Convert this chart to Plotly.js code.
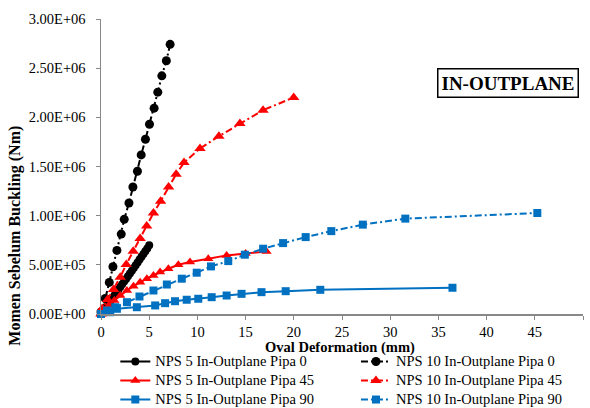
<!DOCTYPE html>
<html>
<head>
<meta charset="utf-8">
<script src="https://cdn.plot.ly/plotly-3.0.1.min.js"></script>
<style>html,body{margin:0;padding:0;background:#fff;}#chart{width:590px;height:408px;}</style>
</head>
<body>
<div id="chart"></div>
<script>
// ---- data ----
const seriesNames = [
  "NPS 5 In-Outplane Pipa 0",
  "NPS 10 In-Outplane Pipa 0",
  "NPS 5 In-Outplane Pipa 45",
  "NPS 10 In-Outplane Pipa 45",
  "NPS 5 In-Outplane Pipa 90",
  "NPS 10 In-Outplane Pipa 90"
];

const nps5Pipa0X = [0, 0.2, 0.4, 0.6, 0.8, 1.0, 1.2, 1.4, 1.6, 1.8, 2.0, 2.2, 2.4, 2.6, 2.8, 3.0, 3.2, 3.4, 3.6, 3.8, 4.0, 4.2, 4.4, 4.6, 4.8, 5.0];
const nps5Pipa0Y = [0, 24000, 51000, 79000, 107000, 135000, 163000, 191000, 219000, 247000, 275000, 302000, 330000, 357000, 385000, 413000, 441000, 469000, 497000, 525000, 553000, 581000, 609000, 637000, 666000, 700000];

const nps10Pipa0X = [0, 0.44, 0.86, 1.24, 1.65, 2.10, 2.41, 2.90, 3.31, 3.78, 4.17, 4.61, 5.03, 5.51, 5.89, 6.31, 6.78, 7.17];
const nps10Pipa0Y = [20000, 158000, 321000, 481000, 647000, 813000, 963000, 1129000, 1292000, 1452000, 1618000, 1777000, 1930000, 2093000, 2256000, 2422000, 2575000, 2742000];

const nps5Pipa45X = [0, 0.34, 0.79, 1.38, 2.00, 2.69, 3.37, 4.06, 4.76, 5.44, 6.13, 6.99, 8.02, 9.23, 11.13, 13.03, 15.0, 17.17];
const nps5Pipa45Y = [0, 36000, 87000, 138000, 188000, 239000, 283000, 324000, 359000, 392000, 426000, 460000, 501000, 528000, 562000, 596000, 615000, 635000];

const nps10Pipa45X = [0, 0.13, 0.68, 1.30, 2.00, 2.62, 3.34, 4.06, 4.74, 5.44, 6.18, 7.01, 7.79, 8.61, 10.27, 12.23, 14.41, 16.81, 19.99];
const nps10Pipa45Y = [0, 56000, 148000, 250000, 375000, 504000, 637000, 769000, 896000, 1027000, 1146000, 1292000, 1421000, 1540000, 1683000, 1808000, 1937000, 2073000, 2202000];

const nps5Pipa90X = [0, 0.96, 1.65, 3.72, 5.62, 6.65, 7.68, 8.89, 10.09, 11.48, 13.03, 14.58, 16.65, 19.16, 22.75, 36.46];
const nps5Pipa90Y = [0, 18000, 53000, 69000, 87000, 110000, 130000, 145000, 155000, 171000, 188000, 205000, 222000, 232000, 246000, 267000];

const nps10Pipa90X = [0, 0.62, 1.48, 2.69, 3.99, 5.44, 6.83, 8.38, 9.93, 11.41, 13.20, 14.92, 16.82, 18.89, 21.23, 23.89, 27.16, 31.57, 45.26];
const nps10Pipa90Y = [0, 36000, 69000, 120000, 178000, 239000, 300000, 359000, 420000, 484000, 538000, 603000, 664000, 721000, 782000, 843000, 909000, 970000, 1027000];

const xTickVals = [0, 5, 10, 15, 20, 25, 30, 35, 40, 45, 50];
const yTickVals = [0, 500000, 1000000, 1500000, 2000000, 2500000, 3000000];
const yTickText = ["0.00E+00", "5.00E+05", "1.00E+06", "1.50E+06", "2.00E+06", "2.50E+06", "3.00E+06"];

const xTitle = "Oval Deformation (mm)";
const yTitle = "Momen Sebelum Buckling (Nm)";
const boxLabel = "IN-OUTPLANE";

// ---- styling ----
const BLACK = "#000000", RED = "#FF0000", BLUE = "#0070C0";
const FONT = "Liberation Serif, Times New Roman, serif";
const DASH10 = "7px,3px,2px,3px";

function tr(name, x, y, color, symbol, size, dash, legendId) {
  return {
    type: "scatter", mode: "lines+markers",
    name: '<span style="font-size:14.5px">' + name + '</span>', x: x, y: y,
    line: {color: color, width: 2, dash: dash},
    marker: {color: color, symbol: symbol, size: size},
    cliponaxis: false, legend: legendId
  };
}

const data = [
  tr(seriesNames[0], nps5Pipa0X, nps5Pipa0Y, BLACK, "circle", 8, "solid", "legend"),
  tr(seriesNames[1], nps10Pipa0X, nps10Pipa0Y, BLACK, "circle", 9, DASH10, "legend2"),
  tr(seriesNames[2], nps5Pipa45X, nps5Pipa45Y, RED, "triangle-up", 9, "solid", "legend"),
  tr(seriesNames[3], nps10Pipa45X, nps10Pipa45Y, RED, "triangle-up", 10, DASH10, "legend2"),
  tr(seriesNames[4], nps5Pipa90X, nps5Pipa90Y, BLUE, "square", 8, "solid", "legend"),
  tr(seriesNames[5], nps10Pipa90X, nps10Pipa90Y, BLUE, "square", 8, DASH10, "legend2")
];

const legendFont = {family: FONT, size: 11, color: "#000"};

const layout = {
  width: 590, height: 408,
  margin: {l: 101, r: 7, t: 19, b: 94, pad: 0, autoexpand: false},
  paper_bgcolor: "#fff", plot_bgcolor: "#fff",
  font: {family: FONT, size: 14.5, color: "#000"},
  showlegend: true,
  legend: {
    orientation: "v", x: 0.0297, xanchor: "left", y: -0.112, yanchor: "top",
    font: legendFont, bgcolor: "rgba(0,0,0,0)", tracegroupgap: 0
  },
  legend2: {
    orientation: "v", x: 0.529, xanchor: "left", y: -0.112, yanchor: "top",
    font: legendFont, bgcolor: "rgba(0,0,0,0)", tracegroupgap: 0
  },
  xaxis: {
    range: [0, 50], tickvals: xTickVals, ticks: "outside", ticklen: 4, tickcolor: "#888",
    showline: true, linecolor: "#888", linewidth: 1.5, showgrid: false, zeroline: false,
    tickfont: {family: FONT, size: 14.5}
  },
  yaxis: {
    range: [0, 3000000], tickvals: yTickVals, ticktext: yTickText, ticks: "outside", ticklen: 4, tickcolor: "#888",
    showline: true, linecolor: "#888", linewidth: 1.5, showgrid: false, zeroline: false,
    tickfont: {family: FONT, size: 14.5}, ticklabelstandoff: 7
  },
  annotations: [
    {
      xref: "paper", yref: "paper", x: 0.8445, y: 0.7847, xanchor: "center", yanchor: "middle",
      text: "<b>" + boxLabel + "</b>", showarrow: false,
      font: {family: FONT, size: 19, color: "#000"},
      bordercolor: "#000", borderwidth: 1.5, borderpad: 3, bgcolor: "#fff"
    },
    {
      xref: "paper", yref: "paper", x: 0.495, y: -0.114, xanchor: "center", yanchor: "middle",
      text: "<b>" + xTitle + "</b>", showarrow: false,
      font: {family: FONT, size: 14.5, color: "#000"}
    },
    {
      xref: "paper", yref: "paper", x: -0.1777, y: 0.2666, xanchor: "center", yanchor: "middle",
      text: "<b>" + yTitle + "</b>", showarrow: false, textangle: -90,
      font: {family: FONT, size: 16, color: "#000"}
    }
  ]
};

Plotly.newPlot("chart", data, layout, {staticPlot: true, displayModeBar: false});
</script>
</body>
</html>
